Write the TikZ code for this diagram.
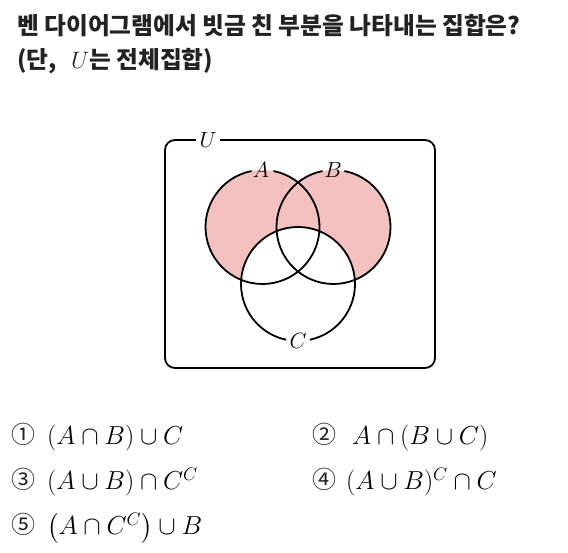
\documentclass[tikz,border=0pt]{standalone}
\usepackage{fix-cm}
\usepackage{fontspec}
\usepackage{amsmath}
\usepackage{tikz}
\newfontfamily\krfont{Noto Sans CJK KR}
\definecolor{hatch}{RGB}{244,193,193}
\definecolor{ink}{RGB}{34,34,34}

\begin{document}
\begin{tikzpicture}[x=1pt,y=1pt,
  set/.style={line width=1.8pt},
  lbl/.style={font=\fontsize{22}{22}\selectfont, inner sep=0pt},
  qtext/.style={anchor=base west, inner sep=0pt, text=ink, font=\krfont\bfseries\fontsize{23.7}{28}\selectfont},
  opt/.style={anchor=base west, inner sep=0pt, font=\fontsize{26}{30}\selectfont},
  num/.style={inner sep=0pt, text=ink, font=\krfont\fontsize{24}{24}\selectfont}]
\useasboundingbox (0,0) rectangle (568,553);
% question
\node[qtext] (q1) at (17,518) {벤 다이어그램에서 빗금 친 부분을 나타내는 집합은?};
\node[qtext] (q2) at (17,484) {(단,\hspace{0.6em}$U$는 전체집합)};
% venn diagram
\coordinate (cA) at (262.5,326);
\coordinate (cB) at (333.5,326);
\coordinate (cC) at (298,269);
\fill[hatch] (cA) circle (57);
\fill[hatch] (cB) circle (57);
\fill[white] (cC) circle (57);
\draw[set] (cA) ++(101:57) arc[start angle=101, end angle=439, radius=57];
\draw[set] (cB) ++(101:57) arc[start angle=101, end angle=439, radius=57];
\draw[set] (cC) ++(-78:57) arc[start angle=-78, end angle=258, radius=57];
\draw[set, rounded corners=10] (165,185) rectangle (435,413);
\node[lbl, fill=white, inner xsep=4pt, inner ysep=2pt] (U) at (208,413) {$U$};
\node[lbl] (A) at (261,383.5) {$A$};
\node[lbl] (B) at (333,383.5) {$B$};
\node[lbl] (C) at (298,212) {$C$};
% choices
\node[num] (n1) at (23,119) {①};
\node[opt] (o1) at (47,108) {$(A\cap B)\cup C$};
\node[num] (n2) at (324.5,119) {②};
\node[opt] (o2) at (352,108) {$A\cap(B\cup C)$};
\node[num] (n3) at (23,74) {③};
\node[opt] (o3) at (47,63) {$(A\cup B)\cap C^C$};
\node[num] (n4) at (324.5,74) {④};
\node[opt] (o4) at (346,63) {$(A\cup B)^C\cap C$};
\node[num] (n5) at (23,29) {⑤};
\node[opt] (o5) at (47,18) {$\bigl(A\cap C^C\bigr)\cup B$};
\end{tikzpicture}
\end{document}
